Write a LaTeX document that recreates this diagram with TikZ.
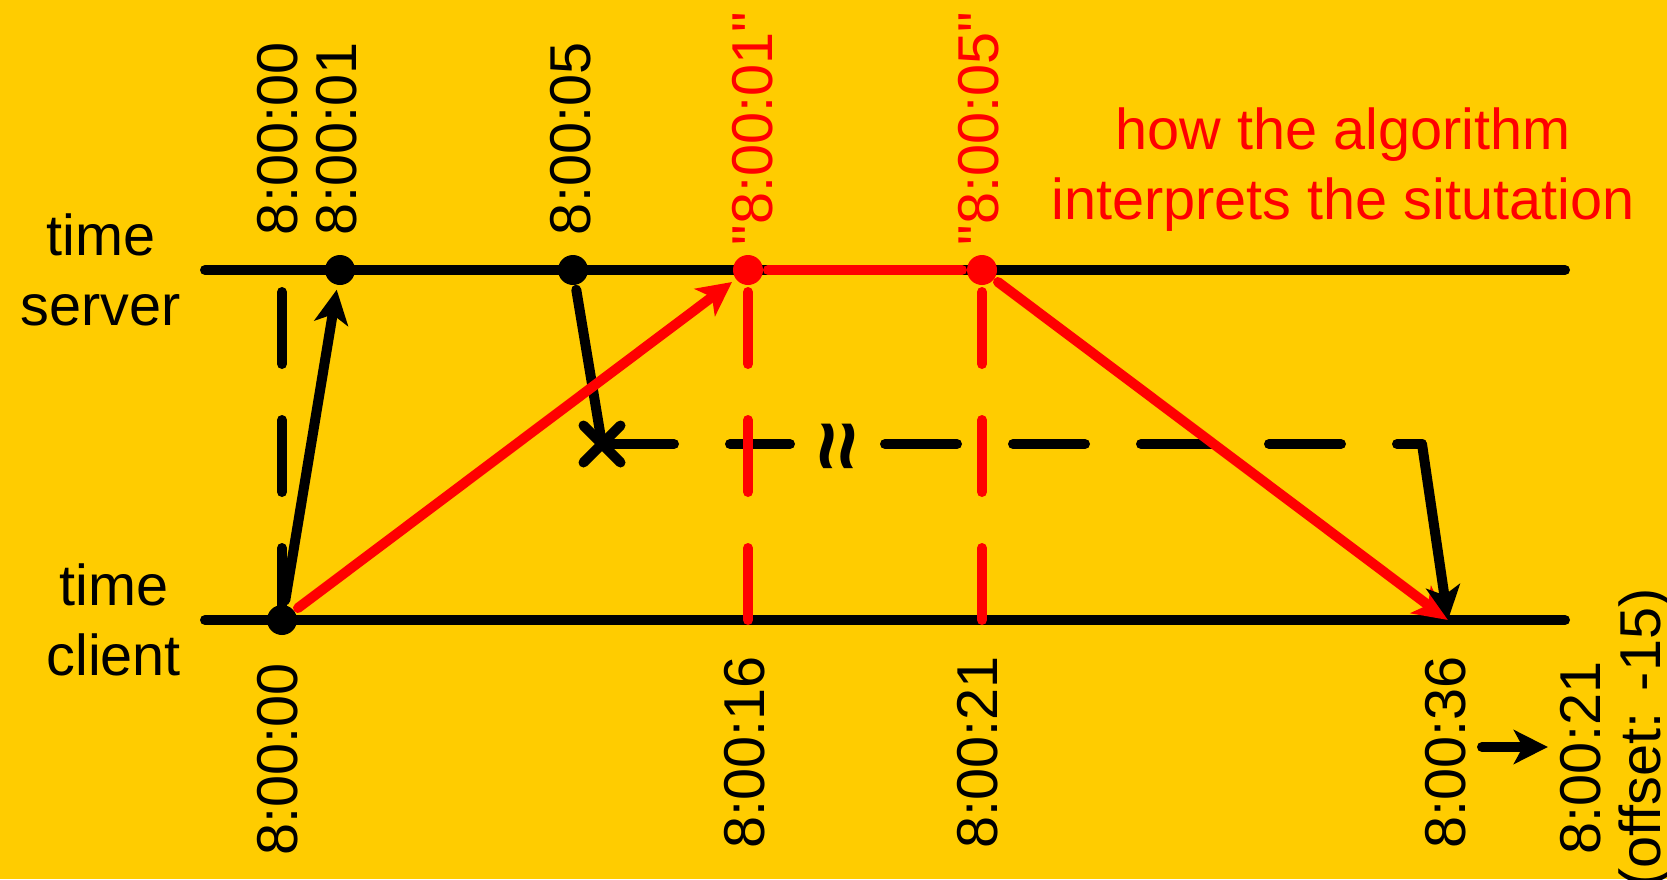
\documentclass[tikz,border=0pt]{standalone}
\usepackage{fontspec}
\setmainfont{Liberation Sans}[Ligatures=TeXOff]
\usepackage{xcolor}
\usetikzlibrary{arrows.meta,positioning,shapes.misc}
\definecolor{bgyellow}{RGB}{255,204,0}

\begin{document}
\begin{tikzpicture}[font=\fontsize{16.4pt}{19.9pt}\selectfont, line width=0.1cm, line cap=round]
    \tikzset{
      dot/.style={circle, fill, inner sep=0pt, minimum size=0.3cm},
      tip/.style={-{Stealth[length=0.34cm, width=0.34cm, inset=0.09cm]}},
      gap/.style={dash pattern=on 0.72cm off 0.56cm},
      lab/.style={rotate=90, inner sep=0pt},
      lane/.style={align=center, inner sep=0pt},
    }
    \useasboundingbox (0,0) rectangle (16.67,8.79);
    \fill[bgyellow] (0,0) rectangle (16.67,8.79);

    \coordinate (srvL) at (2.05,6.09);
    \coordinate (srvR) at (15.65,6.09);
    \coordinate (cliL) at (2.05,2.59);
    \coordinate (cliR) at (15.65,2.59);
    \draw (srvL) -- (srvR);
    \draw (cliL) -- (cliR);
    \node[lane, left=0.19cm of srvL] (srv) {time\\server};
    \node[lane, left=0.19cm of cliL] (cli) {time\\client};

    \node[dot] (c0) at (2.82,2.59) {};
    \node[dot] (s1) at (3.40,6.09) {};
    \node[dot] (s5) at (5.73,6.09) {};
    \node[dot, red] (r1) at (7.48,6.09) {};
    \node[dot, red] (r5) at (9.82,6.09) {};
    \node[cross out, draw, minimum size=0.27cm, inner sep=0pt] (lost) at (6.02,4.35) {};
    \coordinate (gapA) at (7.90,4.35);
    \coordinate (gapB) at (8.85,4.35);
    \coordinate (bend) at (14.22,4.35);
    \coordinate (hit) at (14.48,2.59);
    \node[lab, font=\fontsize{25pt}{25pt}\selectfont\bfseries] (wait) at (8.43,4.33) {≈};

    \draw[gap, shorten >=0.18cm] (c0.center) -- (c0.center |- srvL);
    \draw[tip] (c0) -- (s1);
    \draw (s5) -- (lost.center);
    \draw[gap] (lost.center) -- (gapA);
    \draw[gap] (gapB) -- (bend);
    \draw[red, gap, shorten <=0.22cm] (r1.center) -- (r1.center |- cliL);
    \draw[red, gap, shorten <=0.22cm] (r5.center) -- (r5.center |- cliL);
    \draw[red, tip] (c0) -- (r1);
    \draw[red] (r1) -- (r5);
    \draw[red, tip] (r5) -- (hit);
    \draw[tip] (bend) -- (hit);

    \node[lab, anchor=west] (t0) at (2.78,6.39) {8:00:00};
    \node[lab, anchor=west] (t1) at (3.37,6.39) {8:00:01};
    \node[lab, anchor=west] (t5) at (5.71,6.39) {8:00:05};
    \node[lab, anchor=west, red] (q1) at (7.53,6.29) {"8:00:01"};
    \node[lab, anchor=west, red] (q5) at (9.79,6.29) {"8:00:05"};
    \node[lane, red] (note) at (13.43,7.09) {how the algorithm\\interprets the situtation};

    \node[lab, anchor=east] (b0) at (2.78,2.21) {8:00:00};
    \node[lab, anchor=east] (b16) at (7.45,2.28) {8:00:16};
    \node[lab, anchor=east] (b21) at (9.78,2.28) {8:00:21};
    \node[lab, anchor=east] (b36) at (14.46,2.28) {8:00:36};
    \node[lab, align=center, font=\fontsize{16.4pt}{17.1pt}\selectfont] (adj) at (16.16,1.21) {8:00:21\\\hspace*{0.4cm}(offset: -15)};
    \coordinate (from) at (14.82,1.32);
    \draw[tip, shorten >=0.07cm] (from) -- (from -| adj.north);
\end{tikzpicture}
\end{document}
